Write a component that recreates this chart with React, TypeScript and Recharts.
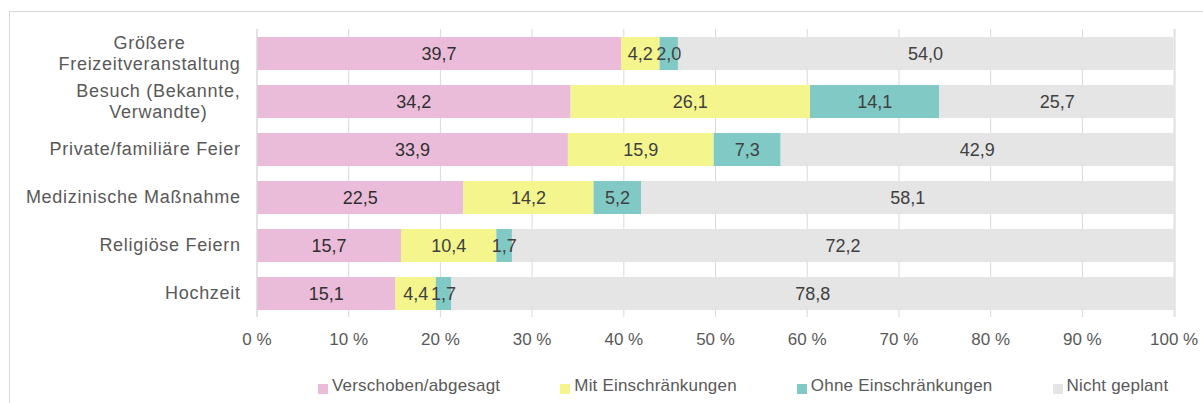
import React from "react";
import { BarChart, Bar, XAxis, YAxis, CartesianGrid, LabelList } from "recharts";

const categories = [
  "Größere\nFreizeitveranstaltung",
  "Besuch (Bekannte,\nVerwandte)",
  "Private/familiäre Feier",
  "Medizinische Maßnahme",
  "Religiöse Feiern",
  "Hochzeit",
];
const verschoben = [39.7, 34.2, 33.9, 22.5, 15.7, 15.1];
const mitEinschr = [4.2, 26.1, 15.9, 14.2, 10.4, 4.4];
const ohneEinschr = [2.0, 14.1, 7.3, 5.2, 1.7, 1.7];
const nichtGeplant = [54.0, 25.7, 42.9, 58.1, 72.2, 78.8];
const xTicks = [0, 10, 20, 30, 40, 50, 60, 70, 80, 90, 100];

const series = [
  { key: "verschoben", name: "Verschoben/abgesagt", color: "#EBBCD9", labelColor: "#303030" },
  { key: "mit", name: "Mit Einschränkungen", color: "#F4F58C", labelColor: "#404040" },
  { key: "ohne", name: "Ohne Einschränkungen", color: "#80C9C4", labelColor: "#404040" },
  { key: "nicht", name: "Nicht geplant", color: "#E5E5E5", labelColor: "#404040" },
];

const data = categories.map((name, i) => ({
  name,
  verschoben: verschoben[i],
  mit: mitEinschr[i],
  ohne: ohneEinschr[i],
  nicht: nichtGeplant[i],
}));

const FONT = "'Liberation Sans', Arial, sans-serif";
const CAT_SPACING = 0.7;

let canvasCtx: CanvasRenderingContext2D | null = null;
function measure(text: string, size: number): number {
  if (!canvasCtx) {
    const c = document.createElement("canvas");
    canvasCtx = c.getContext("2d");
  }
  if (!canvasCtx) return text.length * size * 0.5;
  canvasCtx.font = `${size}px 'Liberation Sans'`;
  return canvasCtx.measureText(text).width + text.length * CAT_SPACING;
}

const CategoryTick = (props: any) => {
  const { x, y, payload } = props;
  const lines: string[] = String(payload.value).split("\n");
  const size = 18;
  if (lines.length === 1) {
    return (
      <text
        x={x + CAT_SPACING}
        y={y}
        dy="0.35em"
        textAnchor="end"
        fill="#595959"
        fontSize={size}
        fontFamily={FONT}
        letterSpacing={CAT_SPACING}
      >
        {lines[0]}
      </text>
    );
  }
  const maxW = Math.max(...lines.map((l) => measure(l, size)));
  const cx = x - maxW / 2 + CAT_SPACING / 2;
  const lh = 20.5;
  const start = -((lines.length - 1) * lh) / 2;
  return (
    <text
      x={cx}
      y={y}
      textAnchor="middle"
      fill="#595959"
      fontSize={size}
      fontFamily={FONT}
      letterSpacing={CAT_SPACING}
    >
      {lines.map((l, i) => (
        <tspan key={i} x={cx} y={y + start + i * lh} dy="0.35em">
          {l}
        </tspan>
      ))}
    </text>
  );
};

const fmt = (v: any) => Number(v).toFixed(1).replace(".", ",");

export default function App() {
  return (
    <div
      style={{
        position: "absolute",
        left: 0,
        top: 0,
        width: 1203,
        height: 403,
        overflow: "hidden",
        background: "#fff",
        fontFamily: FONT,
      }}
    >
      <div
        style={{
          position: "absolute",
          left: 9,
          top: 11,
          width: 1400,
          height: 600,
          border: "1px solid #D9D9D9",
        }}
      />
      <div style={{ position: "absolute", left: 0, top: 0 }}>
        <BarChart
          width={1203}
          height={403}
          data={data}
          layout="vertical"
          margin={{ top: 29, right: 28, left: 0, bottom: 56 }}
          barSize={33}
        >
          <CartesianGrid horizontal={false} vertical={true} stroke="#D9D9D9" />
          <XAxis
            type="number"
            domain={[0, 100]}
            ticks={xTicks}
            interval={0}
            height={30}
            tickSize={0}
            tickMargin={16}
            axisLine={false}
            tickLine={false}
            tickFormatter={(v: number) => `${v} %`}
            tick={{ fill: "#595959", fontSize: 17, fontFamily: FONT }}
          />
          <YAxis
            type="category"
            dataKey="name"
            width={257}
            tickSize={0}
            tickMargin={17}
            tickLine={false}
            axisLine={{ stroke: "#D9D9D9" }}
            interval={0}
            tick={<CategoryTick />}
          />
          {series.map((s) => (
            <Bar key={s.key} dataKey={s.key} name={s.name} stackId="a" fill={s.color} isAnimationActive={false}>
              <LabelList
                dataKey={s.key}
                position="center"
                formatter={fmt}
                fill={s.labelColor}
                fontSize={18}
                fontFamily={FONT}
              />
            </Bar>
          ))}
        </BarChart>
      </div>
      <div
        style={{
          position: "absolute",
          left: 318,
          top: 376,
          display: "flex",
          alignItems: "center",
          gap: 60,
          fontSize: 17,
          letterSpacing: 0.2,
          color: "#595959",
          whiteSpace: "nowrap",
        }}
      >
        {series.map((s) => (
          <div key={s.key} style={{ display: "flex", alignItems: "center" }}>
            <span
              style={{
                display: "inline-block",
                width: 10,
                height: 10,
                background: s.color,
                marginRight: 4,
                marginTop: 6,
              }}
            />
            <span style={{ lineHeight: "20px" }}>{s.name}</span>
          </div>
        ))}
      </div>
    </div>
  );
}
